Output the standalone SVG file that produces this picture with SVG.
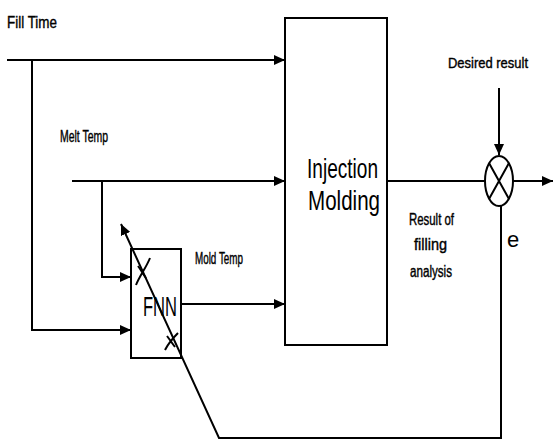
<svg xmlns="http://www.w3.org/2000/svg" width="555" height="443" viewBox="0 0 555 443">
<style>
.ln{fill:none;stroke:#000;stroke-width:2}
.bx{fill:#fff;stroke:#000;stroke-width:2}
.t{font-family:"Liberation Sans",Arial,sans-serif;fill:#000}
.s{stroke:#000;stroke-width:0.4}
</style>
<defs>
<marker id="ah" markerUnits="userSpaceOnUse" markerWidth="12" markerHeight="10" refX="11" refY="5" orient="auto">
<path d="M0,0 L11,5 L0,10 Z" fill="#000"/>
</marker>
</defs>
<rect width="555" height="443" fill="#fff"/>
<g id="injection-molding">
<rect class="bx" x="285" y="18" width="102" height="327"/>
<text class="t" x="307" y="178" font-size="28" textLength="71" lengthAdjust="spacingAndGlyphs">Injection</text>
<text class="t" x="308" y="210" font-size="28" textLength="72" lengthAdjust="spacingAndGlyphs">Molding</text>
</g>
<g id="fnn">
<rect class="bx" x="131" y="249" width="50" height="109"/>
<text class="t" x="143" y="316" font-size="27" textLength="34" lengthAdjust="spacingAndGlyphs">FNN</text>
<path class="ln" d="M136,285 C140,275 146,268 150,258 M138,266 C141,270 143,274 146,278" stroke-width="1.5"/>
<path class="ln" d="M165,350 C169,342 173,338 178,333 M167,336 C170,340 172,343 175,347" stroke-width="1.5"/>
</g>
<g id="sum">
<ellipse class="bx" cx="499" cy="181" rx="14" ry="25"/>
<path class="ln" d="M489,163 L509,199 M509,163 L489,199" stroke-width="1.5"/>
</g>
<g id="connectors">
<path class="ln" d="M7,60 H285" marker-end="url(#ah)"/>
<path class="ln" d="M32,60 V330 H131" marker-end="url(#ah)"/>
<path class="ln" d="M72,181 H285" marker-end="url(#ah)"/>
<path class="ln" d="M102,181 V277 H131" marker-end="url(#ah)"/>
<path class="ln" d="M181,304 H285" marker-end="url(#ah)"/>
<path class="ln" d="M387,181 H485"/>
<path class="ln" d="M513,181 H553" marker-end="url(#ah)"/>
<path class="ln" d="M499,88 V155" marker-end="url(#ah)"/>
<path class="ln" d="M501,206 V438 H219 L121,224" marker-end="url(#ah)"/>
</g>
<g id="labels">
<text class="t s" x="7" y="28" font-size="17" textLength="50" lengthAdjust="spacingAndGlyphs">Fill Time</text>
<text class="t s" x="60" y="142" font-size="16" textLength="48" lengthAdjust="spacingAndGlyphs">Melt Temp</text>
<text class="t s" x="195" y="264" font-size="16" textLength="48" lengthAdjust="spacingAndGlyphs">Mold Temp</text>
<text class="t s" x="448" y="68" font-size="15" textLength="80" lengthAdjust="spacingAndGlyphs">Desired result</text>
<text class="t s" x="409" y="225" font-size="16" textLength="45" lengthAdjust="spacingAndGlyphs">Result of</text>
<text class="t s" x="414" y="250" font-size="16" textLength="33" lengthAdjust="spacingAndGlyphs">filling</text>
<text class="t s" x="410" y="277" font-size="16" textLength="42" lengthAdjust="spacingAndGlyphs">analysis</text>
<text class="t" x="507" y="247" font-size="22">e</text>
</g>
</svg>
